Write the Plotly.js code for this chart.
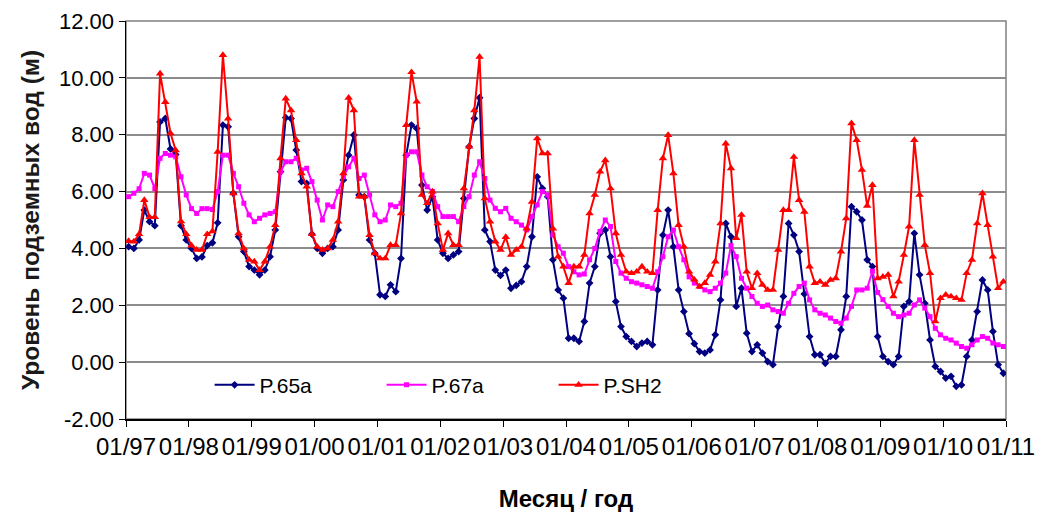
<!DOCTYPE html>
<html>
<head>
<meta charset="utf-8">
<script src="https://cdn.plot.ly/plotly-3.0.1.min.js"></script>
<style>
  html, body { margin: 0; padding: 0; background: #fff; }
  #chart { width: 1043px; height: 512px; }
</style>
</head>
<body>
<div id="chart"></div>
<script>
// Tick labels (month / year), one per January, 01/1997 .. 01/2011
const tickLabels = ['01/97','01/98','01/99','01/00','01/01','01/02','01/03','01/04',
                    '01/05','01/06','01/07','01/08','01/09','01/10','01/11'];
// Y-axis tick values and labels (m)
const yTickVals = [-2, 0, 2, 4, 6, 8, 10, 12];
const yTickLabels = ['-2.00','0.00','2.00','4.00','6.00','8.00','10.00','12.00'];

// Monthly groundwater level (m), Jan 1997 .. Dec 2010
const p65a = [
  4.06,4.0,4.3,5.35,4.94,4.8,8.45,8.57,7.5,7.3,4.8,4.3,
  4.0,3.65,3.7,4.1,4.2,4.9,8.34,8.28,5.94,4.41,3.89,3.36,
  3.24,3.07,3.24,3.71,4.65,6.7,8.6,8.57,7.46,6.35,6.29,4.5,
  4.0,3.83,4.0,4.06,4.65,6.41,7.28,7.99,5.88,5.82,4.3,3.83,
  2.37,2.31,2.72,2.48,3.65,7.28,8.34,8.22,6.23,5.35,5.82,4.3,
  3.83,3.65,3.77,3.89,5.76,7.58,8.57,9.3,4.65,4.24,3.24,3.05,
  3.24,2.6,2.7,2.83,3.36,4.41,6.52,6.11,5.82,3.6,2.54,2.25,
  0.84,0.84,0.73,1.43,2.78,3.36,4.53,4.65,3.71,2.13,1.25,0.9,
  0.73,0.55,0.67,0.73,0.61,2.54,4.47,5.35,4.06,2.54,1.78,1.0,
  0.65,0.37,0.32,0.43,0.96,2.19,4.88,4.41,1.96,2.6,1.02,0.37,
  0.61,0.32,0.02,-0.09,1.25,2.31,4.88,4.47,3.89,2.4,0.9,0.26,
  0.26,-0.04,0.2,0.2,1.14,2.31,5.47,5.29,5.0,3.6,3.36,0.9,
  0.2,0.02,-0.09,0.2,1.96,2.13,4.53,3.07,2.07,0.78,-0.15,-0.33,
  -0.56,-0.5,-0.85,-0.8,0.2,0.78,1.78,2.89,2.54,1.08,-0.09,-0.39
];
const p67a = [
  5.82,5.94,6.1,6.64,6.58,6.1,7.17,7.34,7.28,7.22,6.52,5.88,
  5.4,5.23,5.4,5.4,5.37,6.0,7.28,7.28,6.64,6.17,5.59,5.18,
  4.94,5.06,5.18,5.23,5.29,6.7,7.05,7.05,7.17,6.76,6.82,6.35,
  5.7,5.0,5.53,5.47,6.0,6.52,6.87,7.17,6.46,6.58,5.88,5.18,
  4.94,5.0,5.53,5.47,5.59,7.28,7.4,7.4,6.58,6.17,6.0,5.47,
  5.12,5.12,5.12,4.94,5.47,5.82,6.58,7.05,6.46,5.7,5.41,5.29,
  5.41,5.06,4.94,4.82,4.65,5.12,5.53,6.0,5.88,4.47,4.06,3.83,
  3.36,3.18,3.07,3.1,3.6,4.0,4.6,5.0,4.77,3.54,3.13,2.95,
  2.83,2.78,2.72,2.66,2.6,3.18,3.71,4.41,4.65,4.06,3.6,3.0,
  2.78,2.66,2.54,2.48,2.6,2.78,3.13,4.1,3.71,2.95,2.6,2.31,
  2.07,1.96,2.01,1.84,1.78,1.72,2.07,2.42,2.66,2.78,2.19,1.84,
  1.72,1.66,1.55,1.43,1.37,1.55,1.96,2.54,2.54,2.6,3.2,2.45,
  2.2,1.96,1.72,1.6,1.66,1.72,2.01,2.19,1.9,1.6,1.19,0.96,
  0.84,0.78,0.67,0.55,0.49,0.61,0.78,0.9,0.84,0.67,0.61,0.55
];
const psh2 = [
  4.26,4.24,4.5,5.7,5.1,5.1,10.15,9.15,8.05,7.45,4.95,4.5,
  4.1,3.95,3.95,4.5,4.6,7.4,10.8,8.57,5.94,4.53,4.0,3.6,
  3.54,3.24,3.54,4.06,4.82,7.17,9.27,8.86,7.81,6.64,6.17,4.5,
  4.06,3.95,4.0,4.3,4.94,6.64,9.3,8.86,5.82,5.82,4.47,3.83,
  3.65,3.65,4.12,4.12,5.23,8.34,10.2,9.16,5.88,5.59,6.0,4.88,
  3.95,4.53,4.12,4.12,6.11,7.58,8.86,10.74,5.76,4.94,4.24,3.95,
  4.4,3.77,3.95,4.06,4.7,5.64,7.87,7.34,7.34,4.7,3.71,3.36,
  2.78,3.36,3.36,3.77,5.23,5.88,6.7,7.1,6.11,4.53,3.77,3.18,
  3.13,3.18,3.36,3.18,3.13,5.35,7.17,7.99,6.64,4.82,4.06,3.18,
  2.9,2.66,2.78,3.07,3.54,4.88,7.69,6.82,4.36,5.18,3.18,2.6,
  3.13,2.72,2.54,2.54,3.95,5.35,5.35,7.22,5.7,5.29,3.36,2.78,
  2.83,2.72,2.89,2.95,3.89,5.06,8.4,7.81,6.76,5.5,6.23,2.95,
  3.0,3.07,2.31,2.83,3.77,4.77,7.81,5.88,4.12,3.13,1.43,2.25,
  2.37,2.31,2.25,2.19,3.13,3.6,4.88,5.94,4.82,3.71,2.6,2.83
];

// month index -> centre of that month's slot on the category axis
const xs = p65a.map((_, i) => i + 0.5);
const tickPos = tickLabels.map((_, k) => k * 12);

const FONT = '"Liberation Sans", Arial, sans-serif';

const traces = [
  { name: 'P.65a', x: xs, y: p65a, type: 'scatter', mode: 'lines+markers',
    line: { color: '#000080', width: 2 },
    marker: { symbol: 'diamond', size: 6, color: '#000080' } },
  { name: 'P.67a', x: xs, y: p67a, type: 'scatter', mode: 'lines+markers',
    line: { color: '#FF00FF', width: 2 },
    marker: { symbol: 'square', size: 5, color: '#FF00FF' } },
  { name: 'P.SH2', x: xs, y: psh2, type: 'scatter', mode: 'lines+markers',
    line: { color: '#FF0000', width: 2 },
    marker: { symbol: 'triangle-up', size: 7.5, color: '#FF0000' } }
];

const layout = {
  width: 1043, height: 512,
  margin: { l: 126, r: 37, t: 21, b: 93 },
  paper_bgcolor: '#ffffff', plot_bgcolor: '#ffffff',
  font: { family: FONT, size: 21, color: '#000' },
  showlegend: true,
  legend: {
    orientation: 'h', x: 0.095, y: 0.085, xanchor: 'left', yanchor: 'middle',
    bgcolor: 'rgba(0,0,0,0)', font: { family: FONT, size: 21, color: '#000' },
    entrywidth: 117, entrywidthmode: 'pixels', itemwidth: 40
  },
  xaxis: {
    range: [0, 168], tickmode: 'array', tickvals: tickPos, ticktext: tickLabels,
    showgrid: false, zeroline: false,
    showline: true, linecolor: '#000', linewidth: 1.5,
    ticks: 'outside', ticklen: 6, tickcolor: '#000',
    tickfont: { family: FONT, size: 24, color: '#000' },
    title: { text: 'Месяц / год', standoff: 36,
             font: { family: FONT, size: 24, color: '#000', weight: 'bold' } }
  },
  yaxis: {
    range: [-2, 12], tickmode: 'array', tickvals: yTickVals, ticktext: yTickLabels,
    showgrid: true, gridcolor: '#8c8c8c', gridwidth: 2,
    zeroline: false,
    showline: true, linecolor: '#000', linewidth: 1.5,
    ticks: 'outside', ticklen: 6, tickcolor: '#000',
    tickfont: { family: FONT, size: 22, color: '#000' },
    title: { text: 'Уровень подземных вод (м)', standoff: 12,
             font: { family: FONT, size: 24.5, color: '#1a1a1a', weight: 'bold' } }
  },
  shapes: [
    { type: 'rect', xref: 'paper', yref: 'paper', x0: 0, x1: 1, y0: 0, y1: 1,
      line: { color: '#808080', width: 1.5 }, fillcolor: 'rgba(0,0,0,0)', layer: 'below' }
  ]
};

Plotly.newPlot('chart', traces, layout, { displayModeBar: false, staticPlot: true });
</script>
</body>
</html>
